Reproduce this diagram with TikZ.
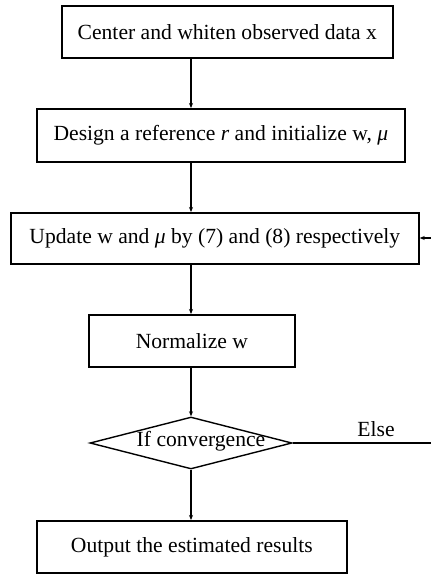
\documentclass[tikz,border=0pt]{standalone}
\usepackage{fontspec}
\setmainfont{Liberation Serif}
\usetikzlibrary{shapes.geometric,arrows.meta}
\begin{document}
\begin{tikzpicture}[x=1pt,y=1pt,
  every node/.style={font=\fontsize{21.6}{24}\selectfont},
  procbox/.style={draw, line width=1.7pt, inner sep=0pt, anchor=north west},
  conn/.style={line width=1.3pt, -{Stealth[length=5pt,width=4pt]}},
  plain/.style={line width=1.3pt}]
\useasboundingbox (0,0) rectangle (431,-574);
\node[procbox, minimum width=331, minimum height=52] (b1) at (61,-5) {Center and whiten observed data x};
\node[procbox, minimum width=368, minimum height=53] (b2) at (36,-108) {Design a reference \textit{r} and initialize w, \textit{μ}};
\node[procbox, minimum width=408, minimum height=51] (b3) at (10,-212) {Update w and \textit{μ} by (7) and (8) respectively};
\node[procbox, minimum width=206, minimum height=52] (b4) at (88,-314) {Normalize w};
\node[draw, diamond, line width=1.4pt, inner sep=0pt, minimum width=202, minimum height=52, aspect=3.9] (d) at (191,-443) {};
\node (dtext) at (201,-441) {If convergence};
\node[procbox, minimum width=310, minimum height=52] (b5) at (36,-520) {Output the estimated results};
\coordinate (eR) at (431,-443);
\coordinate (fR) at (431,-238);
\node (else) at (376,-429) {Else};
\draw[conn] (b1.south -| 191,0) -- (b2.north -| 191,0);
\draw[conn] (b2.south -| 191,0) -- (b3.north -| 191,0);
\draw[conn] (b3.south -| 191,0) -- (b4.north -| 191,0);
\draw[conn] (b4.south -| 191,0) -- (d.north);
\draw[conn] (d.south) -- (b5.north -| 191,0);
\draw[plain] (d.east) -- (eR);
\draw[conn] (fR) -- (b3.east |- fR);
\end{tikzpicture}
\end{document}
